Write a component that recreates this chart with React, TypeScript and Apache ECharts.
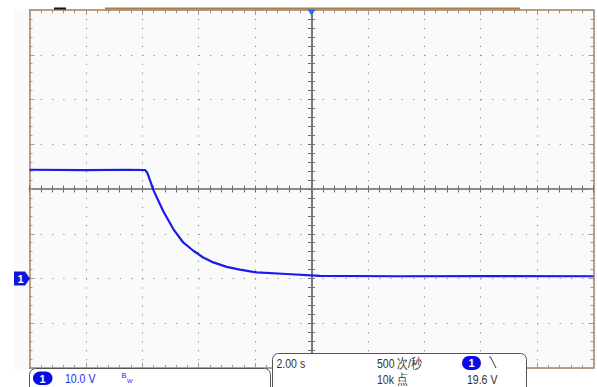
import React, { useEffect, useRef } from 'react';
import * as echarts from 'echarts';

// Time in seconds (2.00 s/div, trigger at centre), channel 1 in volts (10.0 V/div)
const timeS = [-10, -8, -6.5, -5.9, -5.82, -5.72, -5.61, -5.26, -4.9, -4.55, -4.19, -3.84, -3.48, -3.01, -2.54, -1.94, -0.88, 0.3, 3, 6, 10];
const volts = [24.3, 24.2, 24.3, 24.25, 23.6, 21.8, 19.8, 15.1, 11.05, 8.05, 6.2, 4.7, 3.6, 2.6, 2.0, 1.35, 1.0, 0.6, 0.5, 0.55, 0.5];

const xMin = -10, xMax = 10, xStep = 2;
const yMin = -20, yMax = 60, yStep = 10;

const chScale = '10.0 V';
const bwLabel = 'B';
const bwSub = 'W';
const timebase = '2.00 s';
const sampleRate = '500 次/秒';
const recordLen = '10k 点';
const trigLevel = '19.6 V';

const GL = 29.5, GT = 10, GW = 564, GH = 358;

export default function App() {
  const ref = useRef<HTMLDivElement>(null);
  useEffect(() => {
    document.body.style.margin = '0';
    if (!ref.current) return;
    const chart = echarts.init(ref.current, null, { renderer: 'svg' });
    const border = { show: true, onZero: false, lineStyle: { color: '#a87f56', width: 1.5 } };
    const tickLS = { color: '#9a9a9a', width: 1 };
    const centerLS = { color: '#707070', width: 1 };
    const vDots = { show: true, lineStyle: { color: '#8c8c8c', width: 1, type: [1.2, GH / 40 - 1.2] } };
    const hDots = { show: true, lineStyle: { color: '#8c8c8c', width: 1, type: [1.2, GW / 50 - 1.2] } };
    const xBase = { type: 'value', min: xMin, max: xMax, interval: xStep, axisLabel: { show: false } };
    const yBase = { type: 'value', min: yMin, max: yMax, interval: yStep, axisLabel: { show: false } };
    const font = (s: number) => `${s}px "Liberation Sans", Arial, sans-serif`;
    const txt = (x: number, y: number, text: string, fill: string, size = 13.5, sx = 0.78) => ({
      type: 'text', x, y, scaleX: sx, z: 20,
      style: { text, fill, font: font(size), textVerticalAlign: 'middle' },
    });
    const pts = timeS.map((t, i) => [t, volts[i]]);
    chart.setOption({
      animation: false,
      backgroundColor: '#ffffff',
      grid: { left: GL, top: GT, width: GW, height: GH, containLabel: false },
      xAxis: [
        { ...xBase, position: 'bottom', axisLine: border, axisTick: { show: true, inside: true, length: 5, lineStyle: tickLS }, minorTick: { show: true, splitNumber: 5, length: 3, lineStyle: tickLS }, splitLine: vDots },
        { ...xBase, position: 'top', axisLine: border, axisTick: { show: true, inside: true, length: 5, lineStyle: tickLS }, minorTick: { show: true, splitNumber: 5, length: 3.5, lineStyle: tickLS }, splitLine: { show: false } },
        { ...xBase, position: 'bottom', offset: -GH / 2, axisLine: { show: true, onZero: false, lineStyle: { color: '#8a8a8a', width: 2 } }, axisTick: { show: true, inside: true, length: 3.5, lineStyle: centerLS }, minorTick: { show: true, splitNumber: 5, length: 3.5, lineStyle: centerLS }, splitLine: { show: false } },
        { ...xBase, position: 'bottom', offset: -GH / 2, axisLine: { show: false, onZero: false }, axisTick: { show: true, inside: false, length: 3.5, lineStyle: centerLS }, minorTick: { show: true, splitNumber: 5, length: 3.5, lineStyle: centerLS }, splitLine: { show: false } },
      ],
      yAxis: [
        { ...yBase, position: 'left', axisLine: border, axisTick: { show: true, inside: true, length: 5, lineStyle: tickLS }, minorTick: { show: true, splitNumber: 5, length: 3, lineStyle: tickLS }, splitLine: hDots },
        { ...yBase, position: 'right', axisLine: border, axisTick: { show: true, inside: true, length: 5, lineStyle: tickLS }, minorTick: { show: true, splitNumber: 5, length: 3, lineStyle: tickLS }, splitLine: { show: false } },
        { ...yBase, position: 'left', offset: -GW / 2, axisLine: { show: true, onZero: false, lineStyle: { color: '#7a7a7a', width: 2 } }, axisTick: { show: true, inside: true, length: 3.5, lineStyle: centerLS }, minorTick: { show: true, splitNumber: 5, length: 3.5, lineStyle: centerLS }, splitLine: { show: false } },
        { ...yBase, position: 'left', offset: -GW / 2, axisLine: { show: false, onZero: false }, axisTick: { show: true, inside: false, length: 3.5, lineStyle: centerLS }, minorTick: { show: true, splitNumber: 5, length: 3.5, lineStyle: centerLS }, splitLine: { show: false } },
      ],
      series: [
        {
          type: 'line', xAxisIndex: 0, yAxisIndex: 0, data: pts, showSymbol: false, z: 5,
          lineStyle: { color: '#1a1aee', width: 2.2 },
        },
      ],
      graphic: [
        { type: 'rect', z: -10, shape: { x: 14, y: 9, width: 583, height: 360 }, style: { fill: '#fafafa' } },
        { type: 'rect', z: 10, shape: { x: 105, y: 7.5, width: 415, height: 2 }, style: { fill: '#a87f56' } },
        { type: 'rect', z: 10, shape: { x: 54, y: 7.5, width: 12, height: 2 }, style: { fill: '#111111' } },
        { type: 'polygon', z: 10, shape: { points: [[307.5, 9.5], [315.5, 9.5], [311.5, 15.5]] }, style: { fill: '#1e6fe8' } },
        // channel 1 ground marker
        { type: 'polygon', z: 10, shape: { points: [[14, 271.5], [25, 271.5], [30, 278.5], [25, 285.5], [14, 285.5]] }, style: { fill: '#1414e0' } },
        { type: 'text', z: 11, x: 17.5, y: 278.5, style: { text: '1', fill: '#ffffff', font: 'bold 11px "Liberation Sans", Arial, sans-serif', textVerticalAlign: 'middle' } },
        // left info box
        { type: 'rect', z: 15, shape: { x: 29.5, y: 368.5, width: 241, height: 26, r: 6 }, style: { fill: '#ffffff', stroke: '#555555', lineWidth: 1 } },
        { type: 'rect', z: 16, shape: { x: 33, y: 371.5, width: 19.5, height: 13.5, r: 6.75 }, style: { fill: '#0a0ae6' } },
        { type: 'text', z: 17, x: 39.5, y: 378.5, style: { text: '1', fill: '#ffffff', font: 'bold 11px "Liberation Sans", Arial, sans-serif', textVerticalAlign: 'middle' } },
        txt(65, 378.5, chScale, '#2a2af0'),
        { type: 'text', z: 17, x: 121.5, y: 375, style: { text: bwLabel, fill: '#2a2af0', font: font(7.5), textVerticalAlign: 'middle' } },
        { type: 'text', z: 17, x: 127, y: 380.5, style: { text: bwSub, fill: '#2a2af0', font: font(6), textVerticalAlign: 'middle' } },
        // middle info box
        { type: 'rect', z: 15, shape: { x: 272.5, y: 353.5, width: 254, height: 40, r: 6 }, style: { fill: '#ffffff', stroke: '#555555', lineWidth: 1 } },
        txt(276.5, 363.5, timebase, '#333333'),
        txt(377, 363.5, sampleRate, '#333333'),
        txt(377, 379.5, recordLen, '#333333'),
        txt(467, 379.5, trigLevel, '#333333'),
        { type: 'rect', z: 16, shape: { x: 462, y: 356, width: 19, height: 14, r: 7 }, style: { fill: '#0a0ae6' } },
        { type: 'text', z: 17, x: 468.5, y: 363, style: { text: '1', fill: '#ffffff', font: 'bold 11px "Liberation Sans", Arial, sans-serif', textVerticalAlign: 'middle' } },
        { type: 'polyline', z: 17, shape: { points: [[489, 357], [490.5, 357], [496, 368]] }, style: { stroke: '#333333', lineWidth: 1, fill: 'none' } },
      ],
    });
    return () => chart.dispose();
  }, []);
  return <div ref={ref} style={{ width: 597, height: 387 }} />;
}
